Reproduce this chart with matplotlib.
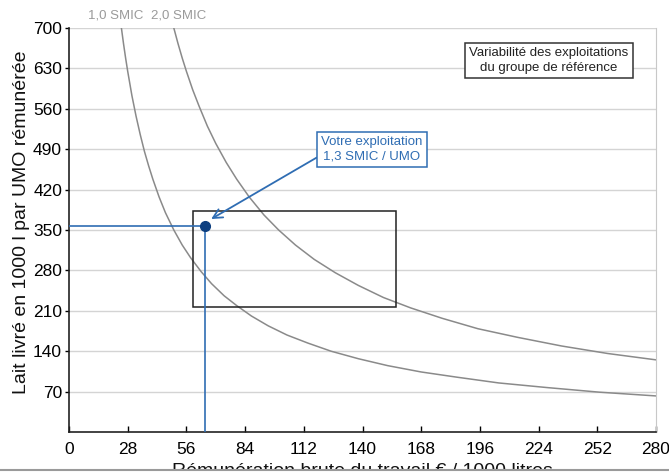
import matplotlib
matplotlib.use("Agg")
import matplotlib.pyplot as plt
from matplotlib.patches import Rectangle
from matplotlib.lines import Line2D

plt.rcParams['font.family'] = ['Liberation Sans', 'DejaVu Sans']

# Iso-income curves
smic1_x = [25, 26, 27, 28, 30, 32, 34, 36, 38, 40, 43, 46, 50, 54, 58, 63, 68, 74, 80, 87,
           95, 104, 114, 125, 138, 152, 168, 185, 205, 228, 253, 280]
smic1_y = [700, 673, 648, 625, 583, 547, 515, 486, 461, 438, 407, 380, 350, 324, 302, 278, 257,
           236, 219, 201, 184, 168, 154, 140, 127, 115, 104, 95, 85, 77, 69, 62.5]
smic2_x = [50, 52, 54, 56, 59, 62, 66, 70, 75, 80, 86, 93, 100, 108, 117, 127, 138, 150, 163,
           178, 195, 214, 235, 257, 280]
smic2_y = [700, 673, 648, 625, 593, 565, 530, 500, 467, 438, 407, 376, 350, 324, 299, 276, 254,
           233, 215, 197, 179, 164, 149, 136, 125]
curve_labels = ["1,0 SMIC", "2,0 SMIC"]

# Farm point
farm_x = 65
farm_y = 357
farm_label = "Votre exploitation\n1,3 SMIC / UMO"

# Reference group variability box
group_xmin, group_xmax = 59, 156
group_ymin, group_ymax = 217, 383
group_label = "Variabilité des exploitations\ndu groupe de référence"

xticks = [0, 28, 56, 84, 112, 140, 168, 196, 224, 252, 280]
yticks = [70, 140, 210, 280, 350, 420, 490, 560, 630, 700]

W, H = 669, 472
fig = plt.figure(figsize=(W / 100, H / 100), dpi=100)
ax = fig.add_axes([69 / W, 1 - 432 / H, (656 - 69) / W, (432 - 28) / H])

ax.set_xlim(0, 280)
ax.set_ylim(0, 700)
ax.set_xticks(xticks)
ax.set_yticks(yticks)
ax.yaxis.grid(True, color='#d4d4d4', lw=1)
ax.set_axisbelow(True)
ax.tick_params(axis='y', direction='out', length=3, pad=2, labelsize=12.5, width=1)
ax.tick_params(axis='x', direction='in', length=4, pad=7, labelsize=12.5, width=1)
ax.spines['right'].set_color('#c8c8c8')
ax.spines['top'].set_visible(False)
for s in ['left', 'bottom']:
    ax.spines[s].set_color('#222222')
    ax.spines[s].set_linewidth(1.2)

curve_color = '#8a8a8a'
ax.plot(smic1_x, smic1_y, color=curve_color, lw=1.1, clip_on=True)
ax.plot(smic2_x, smic2_y, color=curve_color, lw=1.1, clip_on=True)

ax.text(smic1_x[0] - 2.5, 721, curve_labels[0], color='#9a9a9a', fontsize=9.5,
        ha='center', va='center', clip_on=False)
ax.text(smic2_x[0] + 2.5, 721, curve_labels[1], color='#9a9a9a', fontsize=9.5,
        ha='center', va='center', clip_on=False)

ax.add_patch(Rectangle((group_xmin, group_ymin), group_xmax - group_xmin,
                       group_ymax - group_ymin, fill=False, edgecolor='#222222', lw=1.1, zorder=3))

blue = '#2f6db3'
ax.plot([0, farm_x], [farm_y, farm_y], color=blue, lw=1.2, zorder=4)
ax.plot([farm_x, farm_x], [0, farm_y], color=blue, lw=1.2, zorder=4)
ax.plot([farm_x], [farm_y], 'o', color='#0d3f80', ms=7, zorder=5)

ax.annotate(farm_label, xy=(67.8, 369), xytext=(144.5, 490),
            color=blue, fontsize=9.5, ha='center', va='center', linespacing=1.35,
            bbox=dict(boxstyle='square,pad=0.3', fc='white', ec=blue, lw=1.1),
            arrowprops=dict(arrowstyle='->,head_length=0.7,head_width=0.35', color=blue,
                            lw=1.3, relpos=(0, 0.29), shrinkA=0, shrinkB=0),
            zorder=6)

ax.text(229, 643, group_label, fontsize=9.5, ha='center', va='center', linespacing=1.35,
        color='#222222',
        bbox=dict(boxstyle='square,pad=0.3', fc='white', ec='#333333', lw=1.1), zorder=6)

fig.text(22 / W, 1 - 222 / H, "Lait livré en 1000 l par UMO rémunérée", rotation=90,
         fontsize=14, ha='center', va='center', color='#111111')
fig.text(362 / W, 1 - 476.5 / H, "Rémunération brute du travail € / 1000 litres",
         fontsize=14, ha='center', va='baseline', color='#111111')

fig.patches.append(Rectangle((0, 0), 1, 2.5 / H, transform=fig.transFigure,
                             facecolor='white', edgecolor='none', zorder=20))
fig.lines.append(Line2D([0, 1], [2.5 / H, 2.5 / H], transform=fig.transFigure,
                        color='#9a9a9a', lw=1.5, zorder=21))

fig.savefig('out.png', dpi=100)
